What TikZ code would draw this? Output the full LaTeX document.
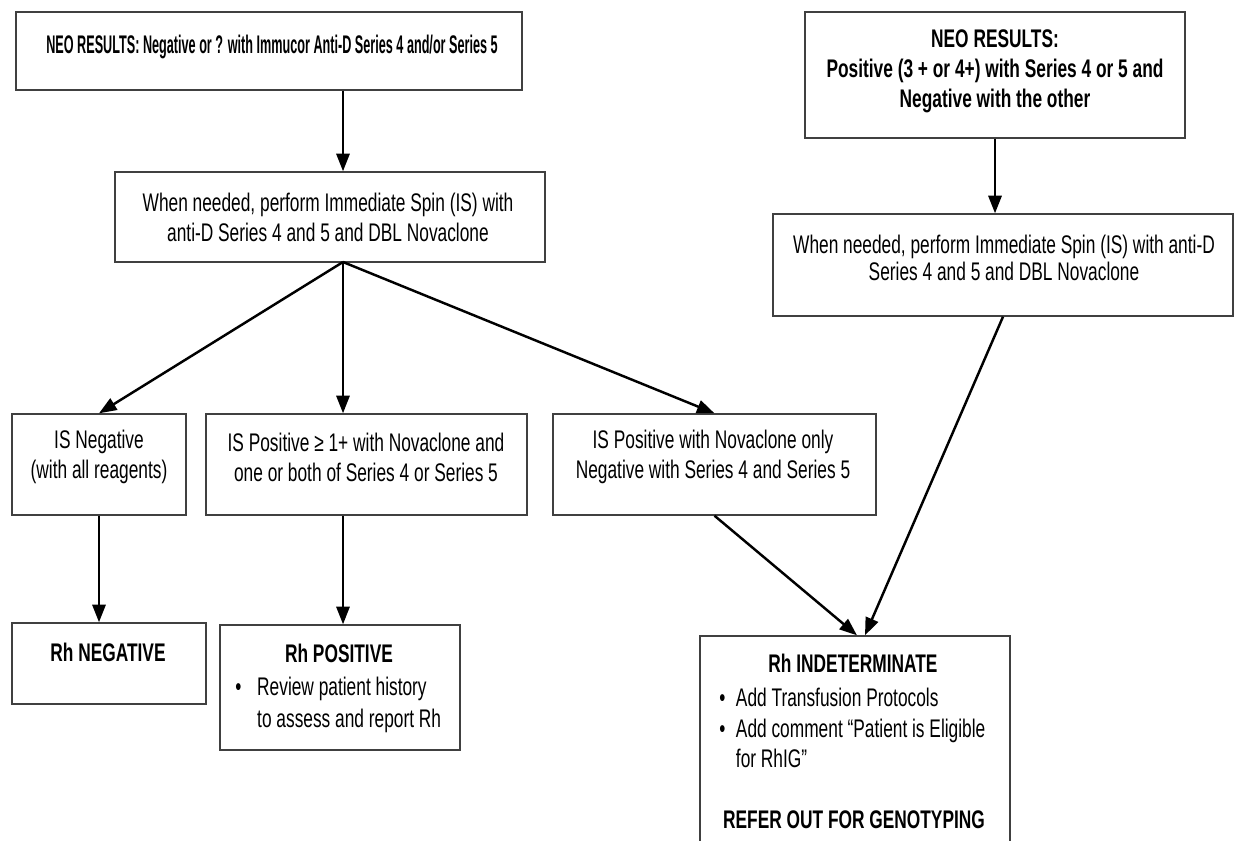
\documentclass[tikz,border=0pt]{standalone}
\usepackage{fontspec}
\setmainfont{Liberation Sans}[FakeStretch=0.68]
\usetikzlibrary{arrows.meta,fit,calc}
\tikzset{
  box/.style={draw=black!75, line width=0.8pt, inner sep=0pt, rectangle},
  txt/.style={inner sep=0pt, font=\fontsize{14.5pt}{17pt}\selectfont, align=center, text=black},
  btxt/.style={inner sep=0pt, font=\fontsize{14.5pt}{17pt}\selectfont\bfseries, align=center, text=black},
  arr/.style={line width=1.4pt, -{Triangle[length=10pt,width=7.5pt]}},
}
\begin{document}
\begin{tikzpicture}[x=0.02cm,y=-0.02cm]
\useasboundingbox (0,0) rectangle (1238,840);
\clip (0,0) rectangle (1238,840);
% boxes
\node[box, fit={(16,12) (522,90)}] (A) {};
\node[box, fit={(805,12) (1185,138)}] (B) {};
\node[box, fit={(115,172) (545,262)}] (C) {};
\node[box, fit={(773,214) (1233,316)}] (D) {};
\node[box, fit={(12,414) (186,515)}] (E) {};
\node[box, fit={(206,414) (527,515)}] (F) {};
\node[box, fit={(553,414) (876,515)}] (G) {};
\node[box, fit={(12,623) (206,704)}] (H) {};
\node[box, fit={(220,625) (460,750)}] (I) {};
\node[box, fit={(700,636) (1010,870)}] (J) {};
% texts
\node[btxt] (At) at (272,47) {\scalebox{0.73}[1]{NEO RESULTS: Negative or ? with Immucor Anti-D Series 4 and/or Series 5}};
\node[btxt] (Bt) at (995,71) {NEO RESULTS:\\Positive (3 + or 4+) with Series 4 or 5 and\\Negative with the other};
\node[txt] (Ct) at (328,217) {When needed, perform Immediate Spin (IS) with\\anti-D Series 4 and 5 and DBL Novaclone};
\node[txt, font=\fontsize{14.5pt}{15.5pt}\selectfont] (Dt) at (1004,258) {When needed, perform Immediate Spin (IS) with anti-D\\Series 4 and 5 and DBL Novaclone};
\node[txt] (Et) at (99,457) {IS Negative\\(with all reagents)};
\node[txt] (Ft) at (366,457) {IS Positive ≥ 1+ with Novaclone and\\one or both of Series 4 or Series 5};
\node[txt] (Gt) at (713,457) {IS Positive with Novaclone only\\Negative with Series 4 and Series 5};
\node[btxt] (Ht) at (108,652) {Rh NEGATIVE};
\node[btxt] (It) at (339,653) {Rh POSITIVE};
\node[txt, anchor=north west, align=left, font=\fontsize{14.5pt}{18pt}\selectfont] (Ib) at (235,673)
  {\begin{tabular}{@{}l@{\hspace{9pt}}l@{}}\textbullet & Review patient history\\ & to assess and report Rh\end{tabular}};
\node[btxt] (Jt) at (853,663) {Rh INDETERMINATE};
\node[txt, anchor=north west, align=left, font=\fontsize{14.5pt}{17.3pt}\selectfont] (Jb) at (719,685)
  {\begin{tabular}{@{}l@{\hspace{6pt}}l@{}}\textbullet & Add Transfusion Protocols\\ \textbullet & Add comment “Patient is Eligible\\ & for RhIG”\end{tabular}};
\node[btxt] (Jr) at (854,820) {REFER OUT FOR GENOTYPING};
% connectors
\coordinate (hub) at (343,262);
\draw[arr] (A.south -| hub) -- (C.north -| hub);
\draw[arr] (hub) -- (E.north);
\draw[arr] (hub) -- (F.north -| hub);
\draw[arr] (hub) -- (G.north);
\draw[arr] (B.south) -- (D.north -| B.south);
\draw[arr] (E.south) -- (H.north -| E.south);
\draw[arr] (F.south -| hub) -- (I.north -| hub);
\draw[arr] (G.south) -- ($(J.north)+(2,0)$);
\draw[arr] (D.south) -- ($(J.north)+(10,0)$);
\end{tikzpicture}
\end{document}
